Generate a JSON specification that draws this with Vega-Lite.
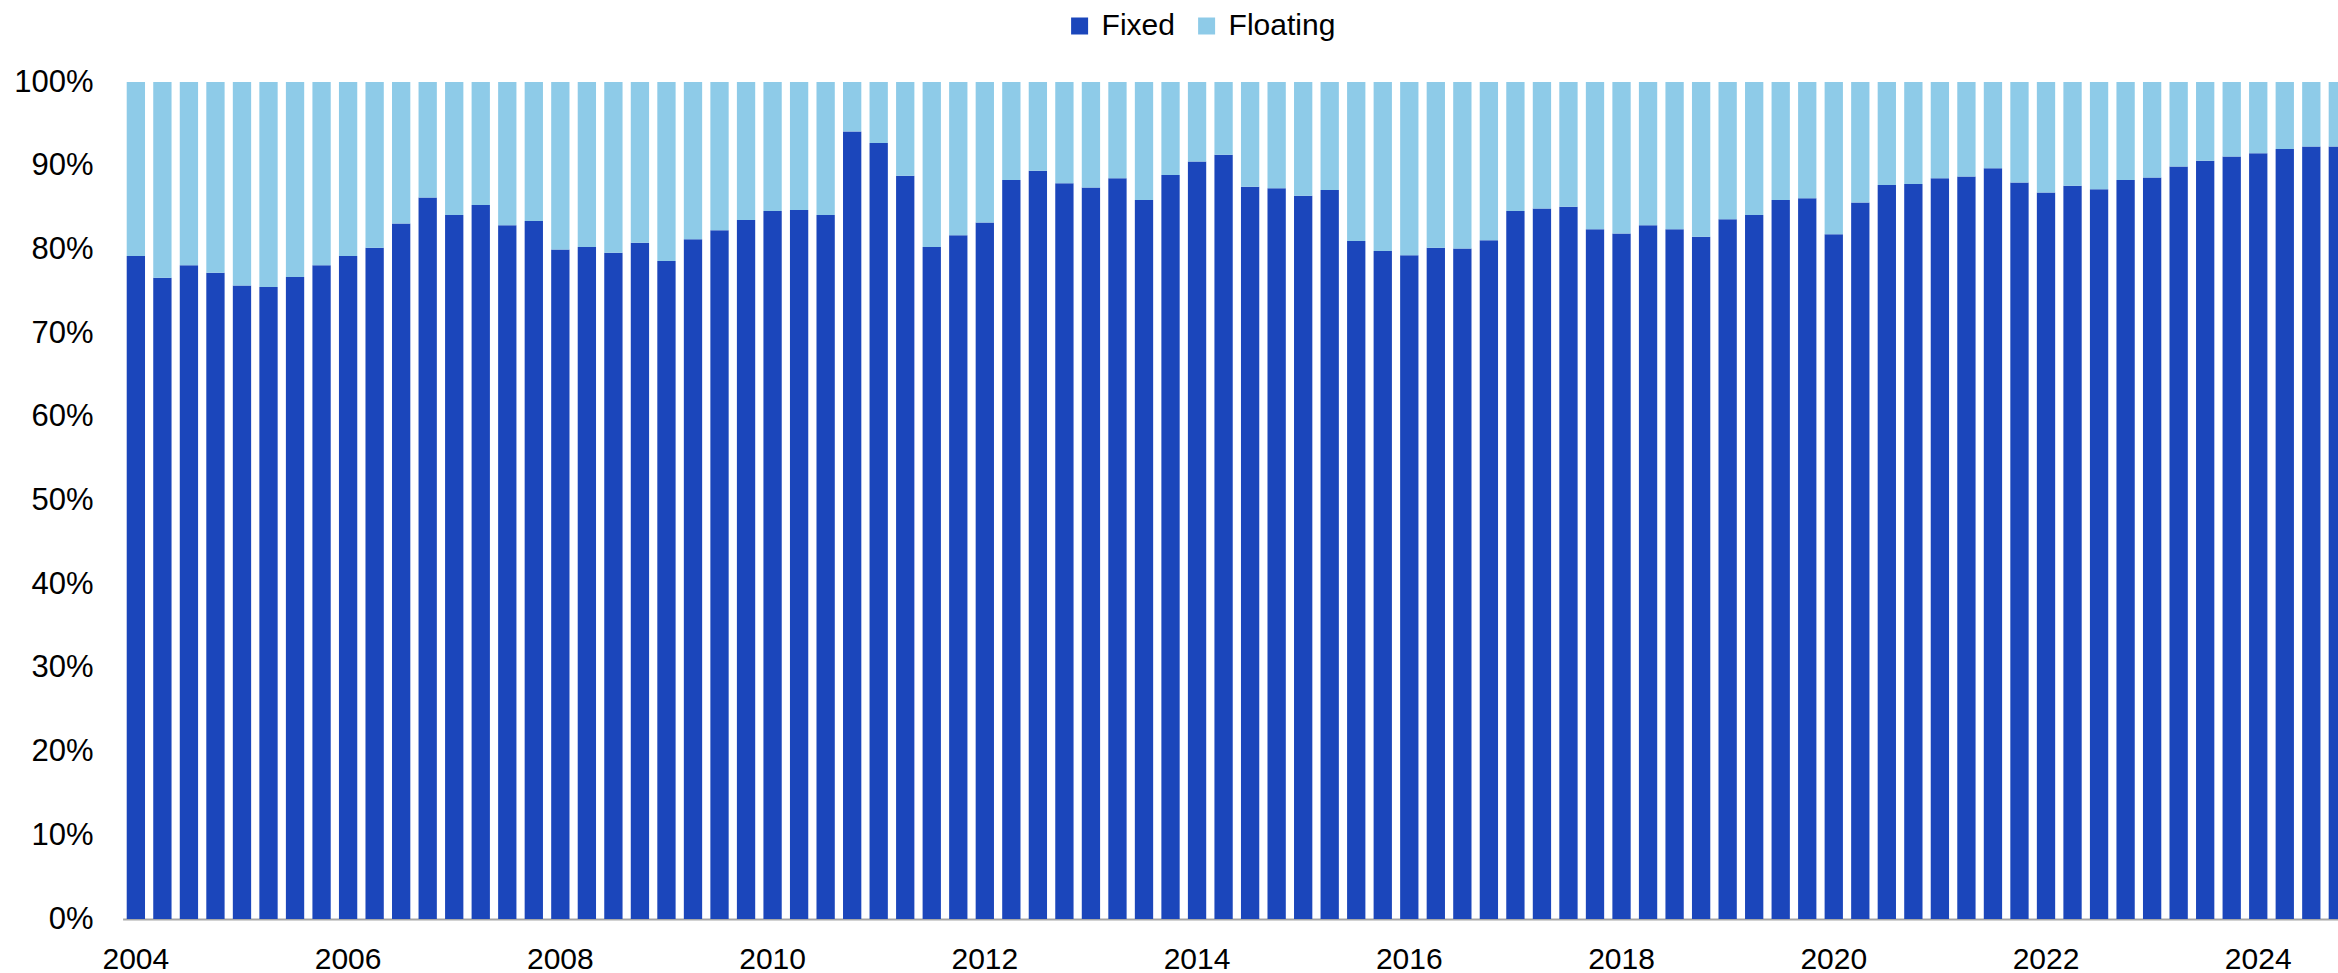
{
  "$schema": "https://vega.github.io/schema/vega-lite/v6.json",
  "autosize": "none",
  "padding": {"left": 122.6, "top": 82, "right": 0, "bottom": 54},
  "width": 2215.4,
  "height": 837,
  "config": {
    "view": {"stroke": null},
    "font": "Liberation Sans",
    "axis": {"labelFont": "Liberation Sans", "labelFontSize": 30, "labelColor": "#000000", "grid": false, "ticks": false, "tickSize": 0, "title": null},
    "legend": {"labelFont": "Liberation Sans", "labelFontSize": 30, "labelColor": "#000000"}
  },
  "data": {
    "values": [
      {"q":"2004Q1","s":"Fixed","v":79.2},{"q":"2004Q1","s":"Floating","v":20.8},
      {"q":"2004Q2","s":"Fixed","v":76.6},{"q":"2004Q2","s":"Floating","v":23.4},
      {"q":"2004Q3","s":"Fixed","v":78.1},{"q":"2004Q3","s":"Floating","v":21.9},
      {"q":"2004Q4","s":"Fixed","v":77.2},{"q":"2004Q4","s":"Floating","v":22.8},
      {"q":"2005Q1","s":"Fixed","v":75.7},{"q":"2005Q1","s":"Floating","v":24.3},
      {"q":"2005Q2","s":"Fixed","v":75.5},{"q":"2005Q2","s":"Floating","v":24.5},
      {"q":"2005Q3","s":"Fixed","v":76.7},{"q":"2005Q3","s":"Floating","v":23.3},
      {"q":"2005Q4","s":"Fixed","v":78.1},{"q":"2005Q4","s":"Floating","v":21.9},
      {"q":"2006Q1","s":"Fixed","v":79.2},{"q":"2006Q1","s":"Floating","v":20.8},
      {"q":"2006Q2","s":"Fixed","v":80.2},{"q":"2006Q2","s":"Floating","v":19.8},
      {"q":"2006Q3","s":"Fixed","v":83.1},{"q":"2006Q3","s":"Floating","v":16.9},
      {"q":"2006Q4","s":"Fixed","v":86.2},{"q":"2006Q4","s":"Floating","v":13.8},
      {"q":"2007Q1","s":"Fixed","v":84.1},{"q":"2007Q1","s":"Floating","v":15.9},
      {"q":"2007Q2","s":"Fixed","v":85.3},{"q":"2007Q2","s":"Floating","v":14.7},
      {"q":"2007Q3","s":"Fixed","v":82.9},{"q":"2007Q3","s":"Floating","v":17.1},
      {"q":"2007Q4","s":"Fixed","v":83.4},{"q":"2007Q4","s":"Floating","v":16.6},
      {"q":"2008Q1","s":"Fixed","v":80.0},{"q":"2008Q1","s":"Floating","v":20.0},
      {"q":"2008Q2","s":"Fixed","v":80.3},{"q":"2008Q2","s":"Floating","v":19.7},
      {"q":"2008Q3","s":"Fixed","v":79.6},{"q":"2008Q3","s":"Floating","v":20.4},
      {"q":"2008Q4","s":"Fixed","v":80.8},{"q":"2008Q4","s":"Floating","v":19.2},
      {"q":"2009Q1","s":"Fixed","v":78.6},{"q":"2009Q1","s":"Floating","v":21.4},
      {"q":"2009Q2","s":"Fixed","v":81.2},{"q":"2009Q2","s":"Floating","v":18.8},
      {"q":"2009Q3","s":"Fixed","v":82.3},{"q":"2009Q3","s":"Floating","v":17.7},
      {"q":"2009Q4","s":"Fixed","v":83.5},{"q":"2009Q4","s":"Floating","v":16.5},
      {"q":"2010Q1","s":"Fixed","v":84.6},{"q":"2010Q1","s":"Floating","v":15.4},
      {"q":"2010Q2","s":"Fixed","v":84.7},{"q":"2010Q2","s":"Floating","v":15.3},
      {"q":"2010Q3","s":"Fixed","v":84.1},{"q":"2010Q3","s":"Floating","v":15.9},
      {"q":"2010Q4","s":"Fixed","v":94.1},{"q":"2010Q4","s":"Floating","v":5.9},
      {"q":"2011Q1","s":"Fixed","v":92.7},{"q":"2011Q1","s":"Floating","v":7.3},
      {"q":"2011Q2","s":"Fixed","v":88.8},{"q":"2011Q2","s":"Floating","v":11.2},
      {"q":"2011Q3","s":"Fixed","v":80.3},{"q":"2011Q3","s":"Floating","v":19.7},
      {"q":"2011Q4","s":"Fixed","v":81.7},{"q":"2011Q4","s":"Floating","v":18.3},
      {"q":"2012Q1","s":"Fixed","v":83.2},{"q":"2012Q1","s":"Floating","v":16.8},
      {"q":"2012Q2","s":"Fixed","v":88.3},{"q":"2012Q2","s":"Floating","v":11.7},
      {"q":"2012Q3","s":"Fixed","v":89.4},{"q":"2012Q3","s":"Floating","v":10.6},
      {"q":"2012Q4","s":"Fixed","v":87.9},{"q":"2012Q4","s":"Floating","v":12.1},
      {"q":"2013Q1","s":"Fixed","v":87.4},{"q":"2013Q1","s":"Floating","v":12.6},
      {"q":"2013Q2","s":"Fixed","v":88.5},{"q":"2013Q2","s":"Floating","v":11.5},
      {"q":"2013Q3","s":"Fixed","v":85.9},{"q":"2013Q3","s":"Floating","v":14.1},
      {"q":"2013Q4","s":"Fixed","v":88.9},{"q":"2013Q4","s":"Floating","v":11.1},
      {"q":"2014Q1","s":"Fixed","v":90.5},{"q":"2014Q1","s":"Floating","v":9.5},
      {"q":"2014Q2","s":"Fixed","v":91.3},{"q":"2014Q2","s":"Floating","v":8.7},
      {"q":"2014Q3","s":"Fixed","v":87.5},{"q":"2014Q3","s":"Floating","v":12.5},
      {"q":"2014Q4","s":"Fixed","v":87.3},{"q":"2014Q4","s":"Floating","v":12.7},
      {"q":"2015Q1","s":"Fixed","v":86.4},{"q":"2015Q1","s":"Floating","v":13.6},
      {"q":"2015Q2","s":"Fixed","v":87.1},{"q":"2015Q2","s":"Floating","v":12.9},
      {"q":"2015Q3","s":"Fixed","v":81.0},{"q":"2015Q3","s":"Floating","v":19.0},
      {"q":"2015Q4","s":"Fixed","v":79.8},{"q":"2015Q4","s":"Floating","v":20.2},
      {"q":"2016Q1","s":"Fixed","v":79.3},{"q":"2016Q1","s":"Floating","v":20.7},
      {"q":"2016Q2","s":"Fixed","v":80.2},{"q":"2016Q2","s":"Floating","v":19.8},
      {"q":"2016Q3","s":"Fixed","v":80.1},{"q":"2016Q3","s":"Floating","v":19.9},
      {"q":"2016Q4","s":"Fixed","v":81.1},{"q":"2016Q4","s":"Floating","v":18.9},
      {"q":"2017Q1","s":"Fixed","v":84.6},{"q":"2017Q1","s":"Floating","v":15.4},
      {"q":"2017Q2","s":"Fixed","v":84.9},{"q":"2017Q2","s":"Floating","v":15.1},
      {"q":"2017Q3","s":"Fixed","v":85.1},{"q":"2017Q3","s":"Floating","v":14.9},
      {"q":"2017Q4","s":"Fixed","v":82.4},{"q":"2017Q4","s":"Floating","v":17.6},
      {"q":"2018Q1","s":"Fixed","v":81.9},{"q":"2018Q1","s":"Floating","v":18.1},
      {"q":"2018Q2","s":"Fixed","v":82.9},{"q":"2018Q2","s":"Floating","v":17.1},
      {"q":"2018Q3","s":"Fixed","v":82.4},{"q":"2018Q3","s":"Floating","v":17.6},
      {"q":"2018Q4","s":"Fixed","v":81.5},{"q":"2018Q4","s":"Floating","v":18.5},
      {"q":"2019Q1","s":"Fixed","v":83.6},{"q":"2019Q1","s":"Floating","v":16.4},
      {"q":"2019Q2","s":"Fixed","v":84.1},{"q":"2019Q2","s":"Floating","v":15.9},
      {"q":"2019Q3","s":"Fixed","v":85.9},{"q":"2019Q3","s":"Floating","v":14.1},
      {"q":"2019Q4","s":"Fixed","v":86.1},{"q":"2019Q4","s":"Floating","v":13.9},
      {"q":"2020Q1","s":"Fixed","v":81.8},{"q":"2020Q1","s":"Floating","v":18.2},
      {"q":"2020Q2","s":"Fixed","v":85.6},{"q":"2020Q2","s":"Floating","v":14.4},
      {"q":"2020Q3","s":"Fixed","v":87.7},{"q":"2020Q3","s":"Floating","v":12.3},
      {"q":"2020Q4","s":"Fixed","v":87.8},{"q":"2020Q4","s":"Floating","v":12.2},
      {"q":"2021Q1","s":"Fixed","v":88.5},{"q":"2021Q1","s":"Floating","v":11.5},
      {"q":"2021Q2","s":"Fixed","v":88.7},{"q":"2021Q2","s":"Floating","v":11.3},
      {"q":"2021Q3","s":"Fixed","v":89.7},{"q":"2021Q3","s":"Floating","v":10.3},
      {"q":"2021Q4","s":"Fixed","v":88.0},{"q":"2021Q4","s":"Floating","v":12.0},
      {"q":"2022Q1","s":"Fixed","v":86.8},{"q":"2022Q1","s":"Floating","v":13.2},
      {"q":"2022Q2","s":"Fixed","v":87.6},{"q":"2022Q2","s":"Floating","v":12.4},
      {"q":"2022Q3","s":"Fixed","v":87.2},{"q":"2022Q3","s":"Floating","v":12.8},
      {"q":"2022Q4","s":"Fixed","v":88.3},{"q":"2022Q4","s":"Floating","v":11.7},
      {"q":"2023Q1","s":"Fixed","v":88.6},{"q":"2023Q1","s":"Floating","v":11.4},
      {"q":"2023Q2","s":"Fixed","v":89.9},{"q":"2023Q2","s":"Floating","v":10.1},
      {"q":"2023Q3","s":"Fixed","v":90.6},{"q":"2023Q3","s":"Floating","v":9.4},
      {"q":"2023Q4","s":"Fixed","v":91.1},{"q":"2023Q4","s":"Floating","v":8.9},
      {"q":"2024Q1","s":"Fixed","v":91.5},{"q":"2024Q1","s":"Floating","v":8.5},
      {"q":"2024Q2","s":"Fixed","v":92.0},{"q":"2024Q2","s":"Floating","v":8.0},
      {"q":"2024Q3","s":"Fixed","v":92.3},{"q":"2024Q3","s":"Floating","v":7.7},
      {"q":"2024Q4","s":"Fixed","v":92.3},{"q":"2024Q4","s":"Floating","v":7.7}
    ]
  },
  "mark": {"type": "bar"},
  "encoding": {
    "x": {
      "field": "q",
      "type": "ordinal",
      "sort": null,
      "scale": {"range": [0, 2228.5], "paddingInner": 0.31, "paddingOuter": 0.155},
      "axis": {
        "values": ["2004Q1","2006Q1","2008Q1","2010Q1","2012Q1","2014Q1","2016Q1","2018Q1","2020Q1","2022Q1","2024Q1"],
        "labelExpr": "slice(datum.value, 0, 4)",
        "labelAngle": 0,
        "labelPadding": 25,
        "domain": true,
        "domainColor": "#A6A6A6",
        "domainWidth": 2
      }
    },
    "y": {
      "field": "v",
      "type": "quantitative",
      "stack": "zero",
      "scale": {"domain": [0, 100], "nice": false},
      "axis": {
        "values": [0,10,20,30,40,50,60,70,80,90,100],
        "labelExpr": "datum.value + '%'",
        "labelFontSize": 31,
        "labelPadding": 29.6,
        "domain": false
      }
    },
    "color": {
      "field": "s",
      "type": "nominal",
      "scale": {"domain": ["Fixed", "Floating"], "range": ["#1B46BB", "#8ECBE8"]},
      "legend": {
        "title": null,
        "orient": "none",
        "direction": "horizontal",
        "legendX": 942,
        "legendY": -71,
        "symbolType": "square",
        "symbolSize": 289,
        "symbolStrokeWidth": 0,
        "labelOffset": 7,
        "columnPadding": 16,
        "padding": 0
      }
    },
    "order": {"field": "s", "sort": "ascending"}
  }
}
